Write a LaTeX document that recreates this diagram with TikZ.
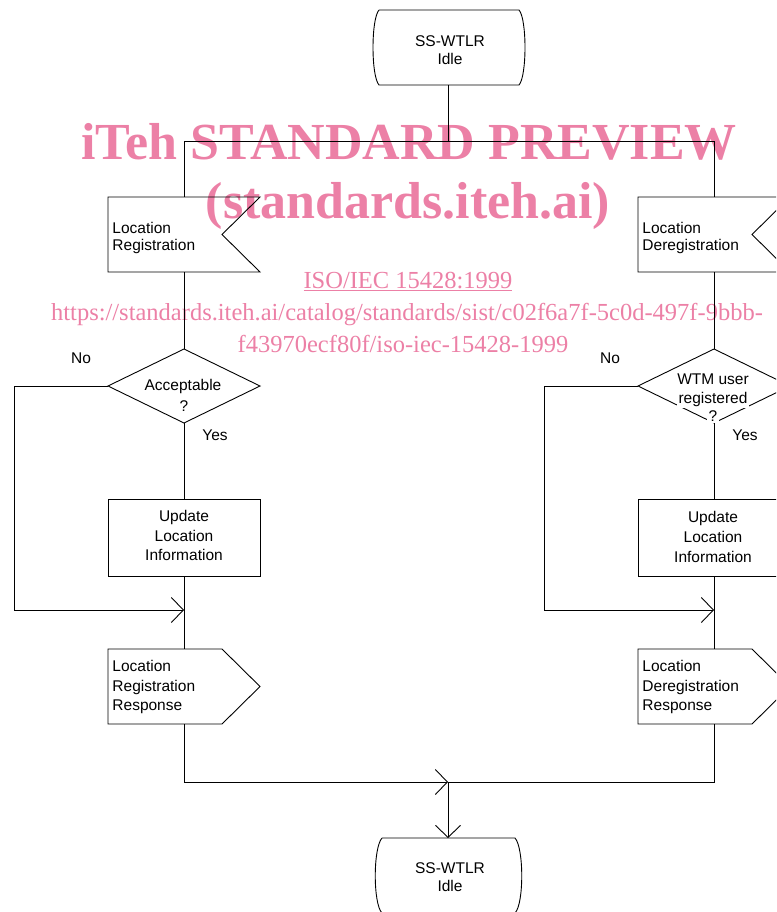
\documentclass[tikz,border=0pt]{standalone}
\usepackage{fontspec}
\setmainfont{Liberation Sans}
\newfontfamily\wmfont{Liberation Serif}
\usetikzlibrary{arrows.meta,shapes.geometric}
\definecolor{wmpink}{RGB}{236,128,166}
\begin{document}
\begin{tikzpicture}[x=1pt,y=-1pt,
  line width=0.9pt,
  every node/.style={inner sep=0pt},
  tx/.style={font=\fontsize{15.5}{18}\selectfont, anchor=base},
  txl/.style={tx, anchor=base west},
  wtx/.style={tx, fill=white, inner sep=1.5pt},
  hole/.style={rectangle, draw=none, outer sep=0pt, minimum width=152pt, minimum height=75pt},
  procbox/.style={rectangle, draw, outer sep=0pt, minimum width=152pt, minimum height=77pt},
  dec/.style={diamond, draw, outer sep=0pt, minimum width=152pt, minimum height=74pt},
  arr/.style={-{Straight Barb[length=12pt,width=25pt]}},
  wmbig/.style={text=wmpink, anchor=base, font=\wmfont\bfseries\fontsize{52}{52}\selectfont},
  wmsmall/.style={text=wmpink, anchor=base, font=\wmfont\fontsize{24.5}{25}\selectfont}
]
\path[use as bounding box] (0,0) rectangle (776,912);
\clip (0,0) rectangle (776,912);

% watermark
\node[wmbig] (wm1) at (409,160) {iTeh STANDARD PREVIEW};
\node[wmbig] (wm2) at (408,218) {(standards.iteh.ai)};
\node[wmsmall] (wm3) at (408,288) {\underline{ISO/IEC 15428:1999}};
\node[wmsmall] (wm4) at (407,320) {https://standards.iteh.ai/catalog/standards/sist/c02f6a7f-5c0d-497f-9bbb-};
\node[wmsmall] (wm5) at (403,352) {f43970ecf80f/iso-iec-15428-1999};

% top state
\node[hole, minimum width=150pt] (s1) at (448,47.5) {};
\draw (379,10) -- (519,10) .. controls (527,19) and (527,76) .. (519,85)
      -- (379,85) .. controls (371,76) and (371,19) .. (379,10);
\node[tx] (s1a) at (450,47) {SS-WTLR};
\node[tx] (s1b) at (450,65) {Idle};

% bottom state
\node[hole, minimum width=150pt] (s2) at (448,875.5) {};
\draw (382,838) -- (515,838) .. controls (524,848) and (524,904) .. (515,913)
      -- (382,913) .. controls (373,904) and (373,848) .. (382,838);
\node[tx] (s2a) at (450,873) {SS-WTLR};
\node[tx] (s2b) at (450,891) {Idle};

% left column
\node[hole] (lreg) at (184,234.5) {};
\draw (108,197) -- (260,197) -- (222,234.5) -- (260,272) -- (108,272) -- cycle;
\node[txl] (lreg1) at (112,233) {Location};
\node[txl] (lreg2) at (112,250) {Registration};

\node[dec] (lacc) at (184,386) {};
\node[tx] (lacc1) at (183,390) {Acceptable};
\node[tx] (lacc2) at (184,411) {?};
\node[tx] (lno) at (81,363) {No};
\node[tx] (lyes) at (215,440) {Yes};

\node[procbox] (lupd) at (184,537.5) {};
\node[tx] (lupd1) at (184,521) {Update};
\node[tx] (lupd2) at (184,541) {Location};
\node[tx] (lupd3) at (184,560) {Information};

\node[hole] (lresp) at (184,686.5) {};
\draw (108,649) -- (222,649) -- (260,686.5) -- (222,724) -- (108,724) -- cycle;
\node[txl] (lresp1) at (112,671) {Location};
\node[txl] (lresp2) at (112,691) {Registration};
\node[txl] (lresp3) at (112,710) {Response};

% right column
\node[hole] (rreg) at (714,234.5) {};
\draw (638,197) -- (790,197) -- (752,234.5) -- (790,272) -- (638,272) -- cycle;
\node[txl] (rreg1) at (642,233) {Location};
\node[txl] (rreg2) at (642,250) {Deregistration};

\node[dec] (racc) at (714,386) {};
\node[wtx] (racc1) at (713,384) {WTM user};
\node[wtx] (racc2) at (713,403) {registered};
\node[wtx] (racc3) at (713,421) {?};
\node[tx] (rno) at (610,363) {No};
\node[tx] (ryes) at (745,440) {Yes};

\node[procbox] (rupd) at (714,537.5) {};
\node[tx] (rupd1) at (713,522) {Update};
\node[tx] (rupd2) at (713,542) {Location};
\node[tx] (rupd3) at (713,562) {Information};

\node[hole] (rresp) at (714,686.5) {};
\draw (638,649) -- (752,649) -- (790,686.5) -- (752,724) -- (638,724) -- cycle;
\node[txl] (rresp1) at (642,671) {Location};
\node[txl] (rresp2) at (642,691) {Deregistration};
\node[txl] (rresp3) at (642,710) {Response};

% connectors
\coordinate (top) at (448,141);
\coordinate (lnoc) at (14,386);
\coordinate (ljoin) at (184,610);
\coordinate (rnoc) at (544,386);
\coordinate (rjoin) at (714,610);
\coordinate (bj) at (448,782);

\draw (s1) -- (top);
\draw (top) -| (lreg);
\draw (top) -| (rreg);
\draw (lreg) -- (lacc);
\draw (lacc) -- (lupd);
\draw (lupd) -- (lresp);
\draw (rreg) -- (racc);
\draw (racc) -- (rupd);
\draw (rupd) -- (rresp);
\draw[arr] (lacc.west) -- (lnoc) |- (ljoin);
\draw[arr] (racc.west) -- (rnoc) |- (rjoin);
\draw[arr] (lresp) |- (bj);
\draw (rresp) |- (bj);
\draw[arr] (bj) -- (s2);
\end{tikzpicture}
\end{document}
